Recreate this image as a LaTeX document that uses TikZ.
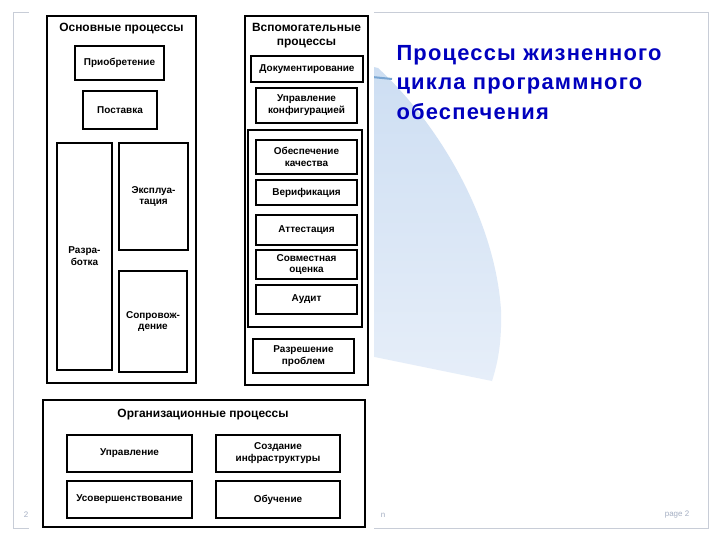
\documentclass[tikz,border=0pt]{standalone}
\usepackage{fontspec}
\setmainfont{Liberation Sans}
\newfontfamily\titlefont[LetterSpace=5.5]{Liberation Sans}
\usetikzlibrary{positioning}
\definecolor{TitleBlue}{RGB}{0,0,190}
\definecolor{FrameGray}{RGB}{200,205,215}
\definecolor{FootGray}{RGB}{165,175,195}
\definecolor{ArcBlueTop}{RGB}{205,222,242}
\definecolor{ArcBlueBot}{RGB}{230,238,249}
\definecolor{ArcEdge}{RGB}{120,165,210}

\begin{document}
\begin{tikzpicture}[x=1bp,y=-1bp,
  grp/.style={draw=black,line width=2.4bp,fill=white,inner sep=0pt},
  box/.style={draw=black,line width=1.4bp,fill=white,inner sep=1pt,align=center,
              font=\fontsize{10}{12}\selectfont\bfseries},
  ttl/.style={font=\fontsize{12}{14.5}\selectfont\bfseries,align=center},
  foot/.style={font=\fontsize{8}{9}\selectfont,text=FootGray},
]
\useasboundingbox (0,0) rectangle (720,540);
\fill[white] (0,0) rectangle (720,540);
% slide frame and backdrop
\draw[FrameGray,line width=0.8bp] (13,12) rectangle (708,528);
\shade[top color=ArcBlueTop,bottom color=ArcBlueBot]
  (360,64) -- (378,68) .. controls (440,125) and (495,220) .. (501,310)
  .. controls (502,345) and (497,365) .. (492,381) -- (360,354) -- cycle;
\draw[ArcEdge,line width=2bp] (372,77) -- (392,79);
\fill[white] (29,4) rectangle (374,535);
\node[anchor=north west,align=left,text=TitleBlue,
      font=\fontsize{22}{29.5}\titlefont\bfseries] (title) at (393,42)
  {Процессы жизненного\\цикла программного\\обеспечения};
% main processes
\node[grp,minimum width=149bp,minimum height=367bp] (main) at (121.5,199.5) {};
\node[ttl] (mainT) at (121.5,29) {Основные процессы};
\node[box,minimum width=89bp,minimum height=34bp] (acq) at (119.5,63) {Приобретение};
\node[box,minimum width=74bp,minimum height=38bp] (supply) at (120,110) {Поставка};
\node[box,minimum width=55bp,minimum height=227bp] (dev) at (84.5,256.5) {Разра-\\ботка};
\node[box,minimum width=69bp,minimum height=107bp] (oper) at (153.5,196.5) {Эксплуа-\\тация};
\node[box,minimum width=68bp,minimum height=101bp] (maint) at (153,321.5) {Сопровож-\\дение};
% supporting processes
\node[grp,minimum width=123bp,minimum height=369bp] (aux) at (306.5,200.5) {};
\node[ttl] (auxT) at (306.5,35.5) {Вспомогательные\\процессы};
\node[box,minimum width=112bp,minimum height=26bp] (doc) at (307,69) {Документирование};
\node[box,minimum width=101bp,minimum height=35bp] (cfg) at (306.5,105.5) {Управление\\конфигурацией};
\node[grp,line width=1.4bp,minimum width=114bp,minimum height=197bp] (qgrp) at (305,228.5) {};
\node[box,minimum width=101bp,minimum height=34bp] (qa) at (306.5,157) {Обеспечение\\качества};
\node[box,minimum width=101bp,minimum height=25bp] (verif) at (306.5,192.5) {Верификация};
\node[box,minimum width=101bp,minimum height=30bp] (valid) at (306.5,230) {Аттестация};
\node[box,minimum width=101bp,minimum height=29bp] (review) at (306.5,264.5) {Совместная\\оценка};
\node[box,minimum width=101bp,minimum height=29bp] (audit) at (306.5,299.5) {Аудит};
\node[box,minimum width=101bp,minimum height=34bp] (probl) at (303.5,356) {Разрешение\\проблем};
% organizational processes
\node[grp,minimum width=322bp,minimum height=127bp] (org) at (204,463.5) {};
\node[ttl] (orgT) at (203,415) {Организационные процессы};
\node[box,minimum width=125bp,minimum height=37bp] (mgmt) at (129.5,453.5) {Управление};
\node[box,minimum width=124bp,minimum height=37bp] (infra) at (278,453.5) {Создание\\инфраструктуры};
\node[box,minimum width=125bp,minimum height=37bp] (impr) at (129.5,499.5) {Усовершенствование};
\node[box,minimum width=124bp,minimum height=37bp] (train) at (278,499.5) {Обучение};
% footer
\node[foot] (pg) at (677,515) {page 2};
\node[foot] (footL) at (26,515) {2};
\node[foot] (footR) at (383,515) {n};
\end{tikzpicture}
\end{document}
